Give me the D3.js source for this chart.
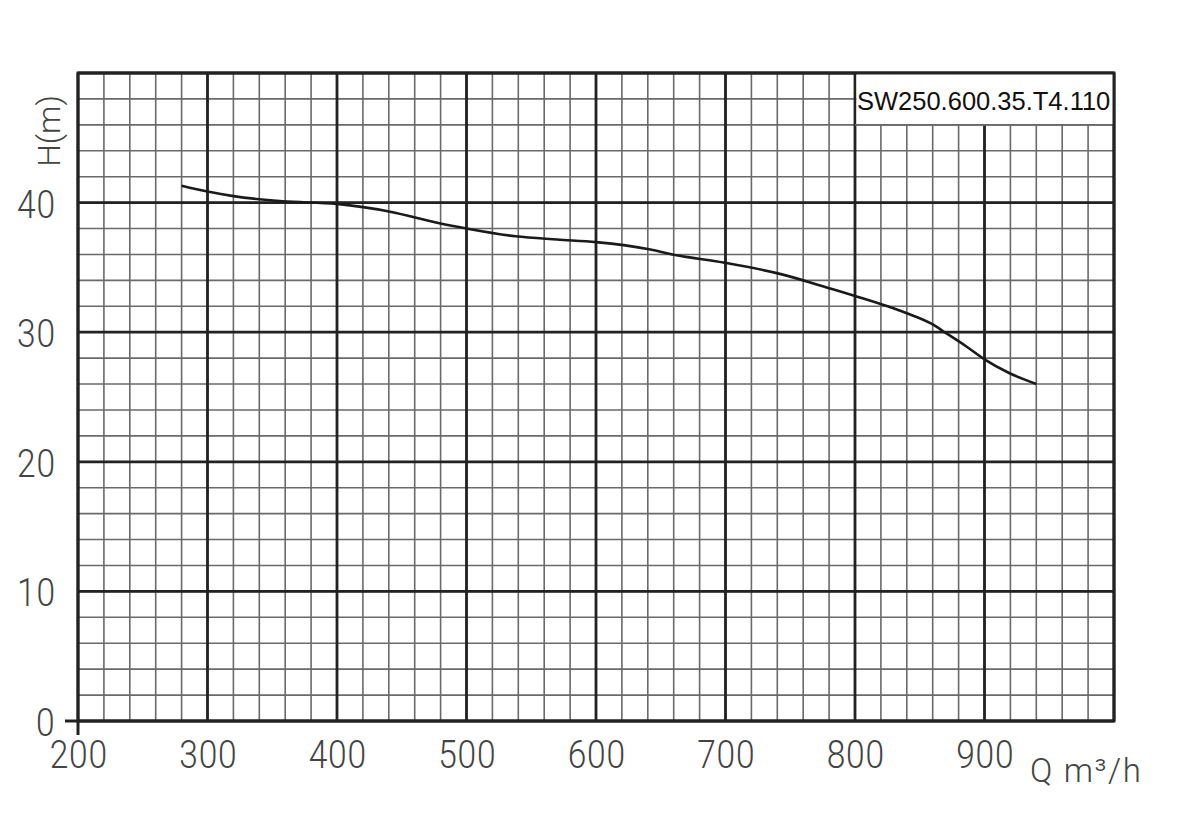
<!DOCTYPE html>
<html>
<head>
<meta charset="utf-8">
<script src="https://cdn.jsdelivr.net/npm/d3@7"></script>
<style>
  html, body { margin: 0; padding: 0; background: #fff; }
  svg { display: block; }
</style>
</head>
<body>
<svg id="chart" width="1200" height="832"></svg>
<script>
// ---- data ----
const flowQ = [280, 300, 320, 358, 400, 441, 479, 500, 538, 570, 600, 641, 659, 700, 742, 780, 800, 839, 860, 870, 886, 900, 919, 940];
const headH = [41.3, 40.85, 40.5, 40.1, 39.9, 39.3, 38.4, 38.0, 37.4, 37.15, 36.95, 36.4, 36.0, 35.35, 34.5, 33.4, 32.8, 31.5, 30.6, 29.95, 28.9, 27.9, 26.85, 26.0];
const xTicks = [200, 300, 400, 500, 600, 700, 800, 900];
const yTicks = [0, 10, 20, 30, 40];
const modelName = "SW250.600.35.T4.110";
const xUnit = "Q m\u00B3/h";
const yUnit = "H(m)";

// ---- layout ----
const svg = d3.select("#chart");
const pLeft = 78, pTop = 73, pRight = 1114, pBottom = 721;
const x = d3.scaleLinear().domain([200, 1000]).range([pLeft, pRight]);
const y = d3.scaleLinear().domain([0, 50]).range([pBottom, pTop]);

const minorX = d3.range(200, 1001, 20);
const minorY = d3.range(0, 51, 2);
const majorX = d3.range(200, 1001, 100);
const majorY = d3.range(0, 51, 10);

const g = svg.append("g");

// minor grid
g.selectAll(".mx").data(minorX).enter().append("line")
  .attr("x1", d => x(d)).attr("x2", d => x(d)).attr("y1", y(50)).attr("y2", y(0))
  .attr("stroke", "#6a6a6a").attr("stroke-width", 1.6);
g.selectAll(".my").data(minorY).enter().append("line")
  .attr("y1", d => y(d)).attr("y2", d => y(d)).attr("x1", x(200)).attr("x2", x(1000))
  .attr("stroke", "#6a6a6a").attr("stroke-width", 1.6);
// major grid
g.selectAll(".Mx").data(majorX).enter().append("line")
  .attr("x1", d => x(d)).attr("x2", d => x(d)).attr("y1", y(50)).attr("y2", y(0))
  .attr("stroke", "#222").attr("stroke-width", 2.8);
g.selectAll(".My").data(majorY).enter().append("line")
  .attr("y1", d => y(d)).attr("y2", d => y(d)).attr("x1", x(200)).attr("x2", x(1000))
  .attr("stroke", "#222").attr("stroke-width", 2.8);

// model box
g.append("rect").attr("x", x(800) + 1.5).attr("y", y(50)).attr("width", x(1000) - x(800) - 1.5).attr("height", y(46) - y(50))
  .attr("fill", "#fff");
g.append("line").attr("x1", x(800)).attr("x2", x(1000)).attr("y1", y(46)).attr("y2", y(46))
  .attr("stroke", "#6a6a6a").attr("stroke-width", 1.6);
g.append("text").attr("x", x(800) + 2).attr("y", 110)
  .attr("font-family", "'Liberation Sans', Arial, sans-serif").attr("font-size", 25.5).attr("fill", "#111")
  .text(modelName);

// frame
g.append("rect").attr("x", pLeft).attr("y", pTop).attr("width", pRight - pLeft).attr("height", pBottom - pTop)
  .attr("fill", "none").attr("stroke", "#222").attr("stroke-width", 3);
// axis extensions at origin
g.append("line").attr("x1", pLeft - 13).attr("x2", pLeft).attr("y1", pBottom).attr("y2", pBottom).attr("stroke", "#222").attr("stroke-width", 3);
g.append("line").attr("x1", pLeft).attr("x2", pLeft).attr("y1", pBottom).attr("y2", pBottom + 14).attr("stroke", "#222").attr("stroke-width", 3);

// curve
const line = d3.line().x((d, i) => x(flowQ[i])).y((d, i) => y(headH[i])).curve(d3.curveMonotoneX);
g.append("path").datum(headH).attr("d", line)
  .attr("fill", "none").attr("stroke", "#1a1a1a").attr("stroke-width", 2.6);

// tick labels
const labelFont = "Roboto, 'DejaVu Sans', sans-serif";
g.selectAll(".xl").data(xTicks).enter().append("text")
  .attr("x", d => x(d) + 1).attr("y", 768)
  .attr("text-anchor", "middle")
  .attr("font-family", labelFont).attr("font-weight", 300).attr("font-size", 39)
  .attr("letter-spacing", 1)
  .attr("fill", "#444")
  .attr("transform", d => `translate(${x(d)},0) scale(0.86,1) translate(${-x(d)},0)`)
  .text(d => d);

g.selectAll(".yl").data(yTicks).enter().append("text")
  .attr("x", d => d === 0 ? 36 : 17).attr("y", d => y(d) + 15)
  .attr("text-anchor", "start")
  .attr("font-family", labelFont).attr("font-weight", 300).attr("font-size", 39)
  .attr("letter-spacing", 1)
  .attr("fill", "#444")
  .attr("transform", d => { const ax = d === 0 ? 36 : 17; return `translate(${ax},0) scale(0.86,1) translate(${-ax},0)`; })
  .text(d => d);

// y unit label (rotated)
g.append("text")
  .attr("transform", "translate(60,131) rotate(-90)")
  .attr("text-anchor", "middle")
  .attr("font-family", labelFont).attr("font-weight", 300).attr("font-size", 32)
  .attr("fill", "#444")
  .text(yUnit);

// x unit label
g.append("text")
  .attr("x", 1030).attr("y", 782)
  .attr("font-family", labelFont).attr("font-weight", 300).attr("font-size", 33)
  .attr("textLength", 111).attr("lengthAdjust", "spacing")
  .attr("fill", "#444")
  .text(xUnit);
</script>
</body>
</html>
